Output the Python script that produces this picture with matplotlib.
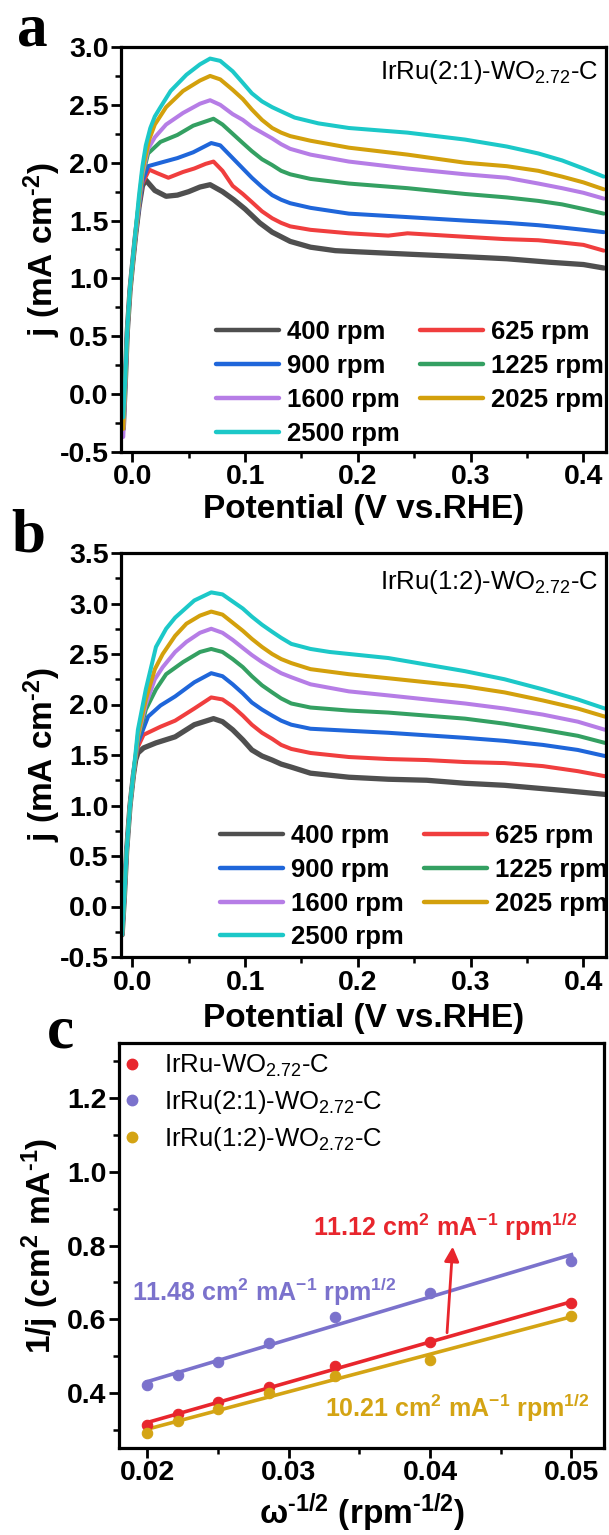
import numpy as np
import matplotlib
matplotlib.use('Agg')
import matplotlib.pyplot as plt
from matplotlib.ticker import MultipleLocator, FormatStrFormatter
from matplotlib.lines import Line2D

plt.rcParams['font.family'] = ['Liberation Sans', 'DejaVu Sans']
plt.rcParams['font.weight'] = 'bold'
plt.rcParams['mathtext.default'] = 'regular'
plt.rcParams['axes.unicode_minus'] = False
plt.rcParams['axes.linewidth'] = 2.2

# ---------------- data ----------------
rpm_labels = ['400 rpm', '625 rpm', '900 rpm', '1225 rpm', '1600 rpm', '2025 rpm', '2500 rpm']
rpm_colors = ['#4f4f4f', '#f03e3e', '#1f66da', '#34a062', '#b67de6', '#d3a00c', '#1cc8c8']

# Panel a : IrRu(2:1)-WO2.72-C
a_400_v = [-0.008, -0.006, -0.0045, -0.002, 0.0, 0.003, 0.006, 0.009, 0.012, 0.02, 0.03, 0.04, 0.05, 0.06, 0.069, 0.08, 0.09, 0.10, 0.113, 0.124, 0.14, 0.158, 0.18, 0.20, 0.244, 0.29, 0.332, 0.37, 0.40, 0.418]
a_400_j = [-0.30, 0.15, 0.53, 0.90, 1.10, 1.38, 1.62, 1.80, 1.85, 1.76, 1.71, 1.72, 1.75, 1.79, 1.81, 1.75, 1.68, 1.60, 1.48, 1.40, 1.32, 1.27, 1.24, 1.23, 1.21, 1.19, 1.17, 1.14, 1.12, 1.09]
a_625_v = [-0.008, -0.006, -0.0045, -0.002, 0.0, 0.003, 0.006, 0.009, 0.015, 0.022, 0.032, 0.045, 0.055, 0.065, 0.072, 0.08, 0.089, 0.098, 0.106, 0.115, 0.124, 0.132, 0.14, 0.158, 0.192, 0.227, 0.244, 0.261, 0.295, 0.33, 0.36, 0.381, 0.40, 0.418]
a_625_j = [-0.30, 0.15, 0.53, 0.90, 1.10, 1.38, 1.62, 1.82, 1.94, 1.91, 1.87, 1.92, 1.95, 1.99, 2.01, 1.93, 1.80, 1.73, 1.66, 1.58, 1.52, 1.48, 1.45, 1.42, 1.39, 1.37, 1.39, 1.38, 1.36, 1.34, 1.33, 1.31, 1.29, 1.24]
a_900_v = [-0.008, -0.006, -0.0045, -0.002, 0.0, 0.003, 0.006, 0.009, 0.014, 0.025, 0.04, 0.054, 0.07, 0.078, 0.089, 0.098, 0.106, 0.115, 0.124, 0.132, 0.14, 0.158, 0.192, 0.244, 0.295, 0.332, 0.36, 0.381, 0.40, 0.418]
a_900_j = [-0.30, 0.15, 0.53, 0.90, 1.10, 1.38, 1.62, 1.84, 1.97, 2.00, 2.04, 2.09, 2.17, 2.15, 2.04, 1.95, 1.87, 1.79, 1.72, 1.68, 1.65, 1.61, 1.56, 1.53, 1.50, 1.48, 1.46, 1.44, 1.42, 1.40]
a_1225_v = [-0.008, -0.006, -0.0045, -0.002, 0.0, 0.003, 0.006, 0.009, 0.014, 0.025, 0.04, 0.054, 0.072, 0.08, 0.089, 0.098, 0.106, 0.115, 0.124, 0.132, 0.14, 0.158, 0.192, 0.244, 0.295, 0.332, 0.36, 0.381, 0.40, 0.418]
a_1225_j = [-0.30, 0.15, 0.53, 0.90, 1.10, 1.38, 1.64, 1.88, 2.08, 2.18, 2.24, 2.32, 2.38, 2.33, 2.25, 2.17, 2.10, 2.03, 1.98, 1.93, 1.90, 1.86, 1.82, 1.78, 1.73, 1.70, 1.67, 1.64, 1.60, 1.56]
a_1600_v = [-0.008, -0.006, -0.0045, -0.002, 0.0, 0.003, 0.006, 0.009, 0.014, 0.02, 0.03, 0.045, 0.06, 0.069, 0.078, 0.089, 0.098, 0.106, 0.115, 0.124, 0.132, 0.14, 0.158, 0.192, 0.244, 0.295, 0.332, 0.36, 0.381, 0.40, 0.418]
a_1600_j = [-0.37, 0.12, 0.53, 0.90, 1.10, 1.38, 1.65, 1.90, 2.12, 2.22, 2.33, 2.43, 2.51, 2.54, 2.50, 2.42, 2.37, 2.31, 2.26, 2.21, 2.16, 2.12, 2.07, 2.01, 1.95, 1.90, 1.87, 1.82, 1.78, 1.74, 1.69]
a_2025_v = [-0.008, -0.006, -0.0045, -0.002, 0.0, 0.003, 0.006, 0.009, 0.015, 0.02, 0.03, 0.045, 0.06, 0.069, 0.078, 0.089, 0.098, 0.106, 0.115, 0.124, 0.132, 0.14, 0.158, 0.192, 0.244, 0.295, 0.332, 0.36, 0.381, 0.40, 0.418]
a_2025_j = [-0.30, 0.15, 0.53, 0.90, 1.10, 1.40, 1.68, 1.93, 2.20, 2.33, 2.48, 2.62, 2.71, 2.75, 2.72, 2.63, 2.55, 2.46, 2.37, 2.30, 2.26, 2.23, 2.19, 2.13, 2.07, 2.00, 1.97, 1.93, 1.88, 1.83, 1.77]
a_2500_v = [-0.008, -0.006, -0.0045, -0.002, 0.0, 0.003, 0.006, 0.009, 0.012, 0.016, 0.02, 0.025, 0.034, 0.048, 0.06, 0.069, 0.078, 0.089, 0.098, 0.106, 0.115, 0.124, 0.135, 0.144, 0.165, 0.192, 0.244, 0.295, 0.332, 0.36, 0.381, 0.40, 0.418]
a_2500_j = [-0.20, 0.18, 0.55, 0.92, 1.12, 1.42, 1.72, 1.97, 2.15, 2.30, 2.40, 2.48, 2.62, 2.76, 2.85, 2.90, 2.88, 2.79, 2.69, 2.60, 2.53, 2.48, 2.43, 2.39, 2.34, 2.30, 2.26, 2.20, 2.14, 2.08, 2.02, 1.95, 1.88]

# Panel b : IrRu(1:2)-WO2.72-C
b_400_v = [-0.009, -0.007, -0.005, -0.002, 0.001, 0.003, 0.005, 0.01, 0.021, 0.038, 0.055, 0.072, 0.08, 0.089, 0.098, 0.106, 0.115, 0.124, 0.132, 0.141, 0.158, 0.192, 0.227, 0.261, 0.295, 0.33, 0.381, 0.419]
b_400_j = [-0.28, 0.10, 0.55, 1.00, 1.30, 1.45, 1.52, 1.57, 1.62, 1.68, 1.80, 1.86, 1.83, 1.75, 1.65, 1.55, 1.49, 1.45, 1.41, 1.38, 1.32, 1.28, 1.26, 1.25, 1.22, 1.20, 1.15, 1.11]
b_625_v = [-0.009, -0.007, -0.005, -0.002, 0.001, 0.003, 0.005, 0.01, 0.025, 0.038, 0.055, 0.07, 0.08, 0.089, 0.098, 0.106, 0.115, 0.124, 0.132, 0.141, 0.158, 0.192, 0.227, 0.261, 0.295, 0.33, 0.364, 0.395, 0.419]
b_625_j = [-0.28, 0.10, 0.55, 1.00, 1.30, 1.47, 1.58, 1.70, 1.78, 1.84, 1.96, 2.07, 2.05, 1.98, 1.89, 1.80, 1.72, 1.66, 1.60, 1.56, 1.52, 1.48, 1.46, 1.45, 1.43, 1.42, 1.39, 1.34, 1.29]
b_900_v = [-0.009, -0.007, -0.005, -0.002, 0.001, 0.003, 0.005, 0.014, 0.025, 0.038, 0.055, 0.07, 0.08, 0.089, 0.098, 0.106, 0.115, 0.124, 0.132, 0.141, 0.158, 0.192, 0.227, 0.295, 0.33, 0.364, 0.395, 0.419]
b_900_j = [-0.28, 0.10, 0.55, 1.00, 1.30, 1.48, 1.62, 1.88, 1.99, 2.08, 2.22, 2.31, 2.28, 2.20, 2.11, 2.02, 1.95, 1.89, 1.84, 1.80, 1.76, 1.74, 1.72, 1.67, 1.64, 1.60, 1.55, 1.49]
b_1225_v = [-0.009, -0.007, -0.005, -0.002, 0.001, 0.003, 0.005, 0.012, 0.021, 0.03, 0.045, 0.06, 0.07, 0.08, 0.089, 0.098, 0.106, 0.115, 0.124, 0.132, 0.141, 0.158, 0.192, 0.227, 0.295, 0.33, 0.364, 0.395, 0.419]
b_1225_j = [-0.28, 0.10, 0.55, 1.00, 1.30, 1.48, 1.65, 1.95, 2.15, 2.30, 2.42, 2.52, 2.55, 2.52, 2.45, 2.37, 2.28, 2.19, 2.12, 2.06, 2.01, 1.97, 1.94, 1.92, 1.86, 1.81, 1.75, 1.69, 1.62]
b_1600_v = [-0.009, -0.007, -0.005, -0.002, 0.001, 0.003, 0.005, 0.012, 0.02, 0.027, 0.038, 0.048, 0.06, 0.07, 0.08, 0.089, 0.098, 0.106, 0.115, 0.124, 0.132, 0.141, 0.158, 0.192, 0.227, 0.295, 0.33, 0.364, 0.395, 0.419]
b_1600_j = [-0.28, 0.10, 0.55, 1.00, 1.30, 1.49, 1.68, 2.00, 2.25, 2.37, 2.52, 2.62, 2.71, 2.75, 2.71, 2.64, 2.56, 2.49, 2.42, 2.36, 2.31, 2.27, 2.20, 2.13, 2.09, 2.01, 1.96, 1.90, 1.83, 1.75]
b_2025_v = [-0.009, -0.007, -0.005, -0.002, 0.001, 0.003, 0.005, 0.012, 0.02, 0.027, 0.038, 0.048, 0.06, 0.07, 0.08, 0.089, 0.098, 0.106, 0.115, 0.124, 0.132, 0.141, 0.158, 0.192, 0.227, 0.295, 0.33, 0.364, 0.395, 0.419]
b_2025_j = [-0.28, 0.10, 0.55, 1.00, 1.30, 1.50, 1.70, 2.05, 2.35, 2.50, 2.68, 2.80, 2.88, 2.92, 2.89, 2.81, 2.73, 2.65, 2.57, 2.50, 2.45, 2.41, 2.35, 2.30, 2.26, 2.18, 2.12, 2.04, 1.96, 1.88]
b_2500_v = [-0.009, -0.007, -0.005, -0.002, 0.001, 0.003, 0.005, 0.012, 0.021, 0.03, 0.038, 0.055, 0.07, 0.08, 0.089, 0.098, 0.106, 0.115, 0.124, 0.132, 0.141, 0.158, 0.175, 0.227, 0.295, 0.33, 0.364, 0.395, 0.419]
b_2500_j = [-0.28, 0.10, 0.55, 1.00, 1.32, 1.53, 1.75, 2.15, 2.57, 2.75, 2.86, 3.03, 3.11, 3.09, 3.02, 2.95, 2.87, 2.79, 2.72, 2.66, 2.60, 2.55, 2.52, 2.46, 2.33, 2.25, 2.15, 2.05, 1.96]

# Panel c : Koutecky-Levich
kl_x = [0.02, 0.0222, 0.025, 0.0286, 0.0333, 0.04, 0.05]
kl_base = [0.313, 0.341, 0.376, 0.416, 0.474, 0.537, 0.643]
kl_21 = [0.420, 0.448, 0.484, 0.535, 0.605, 0.672, 0.757]
kl_12 = [0.292, 0.322, 0.355, 0.400, 0.445, 0.490, 0.609]
kl_labels = ['IrRu-WO$_{2.72}$-C', 'IrRu(2:1)-WO$_{2.72}$-C', 'IrRu(1:2)-WO$_{2.72}$-C']
kl_colors = ['#e8262d', '#7b72cc', '#d4a414']
kl_slopes = ['11.12', '11.48', '10.21']

HY = '\u2010'  # short hyphen used in the reference superscripts

# ---------------- figure ----------------
W, H = 609, 1535
fig = plt.figure(figsize=(W / 100, H / 100), dpi=100)


def px_axes(l, t, r, b):
    return fig.add_axes([l / W, 1 - b / H, (r - l) / W, (b - t) / H])


ax_a = px_axes(121, 47, 606, 452)
ax_b = px_axes(121, 553, 606, 957)
ax_c = px_axes(119, 1043, 604, 1448)

TICK_FS = 20.5
LABEL_FS = 24


def style_axes(ax):
    ax.tick_params(which='major', direction='out', length=7, width=2.0, labelsize=TICK_FS, pad=2,
                   top=False, right=False)
    ax.tick_params(which='minor', direction='out', length=4, width=1.8, top=False, right=False)
    for s in ax.spines.values():
        s.set_linewidth(2.3)


def rde_panel(ax, vs, js, ylim, title, legend_anchor):
    lines = []
    for v, j, c, lab in zip(vs, js, rpm_colors, rpm_labels):
        lw = 3.8 if lab == '400 rpm' else 2.9
        ln, = ax.plot(v, j, color=c, lw=lw, label=lab, solid_capstyle='round',
                      solid_joinstyle='round')
        lines.append(ln)
    ax.set_xlim(-0.01, 0.42)
    ax.set_ylim(*ylim)
    ax.xaxis.set_major_locator(MultipleLocator(0.1))
    ax.xaxis.set_minor_locator(MultipleLocator(0.05))
    ax.yaxis.set_major_locator(MultipleLocator(0.5))
    ax.yaxis.set_minor_locator(MultipleLocator(0.25))
    ax.xaxis.set_major_formatter(FormatStrFormatter('%.1f'))
    ax.yaxis.set_major_formatter(FormatStrFormatter('%.1f'))
    style_axes(ax)
    ax.set_xlabel('Potential (V vs.RHE)', fontsize=LABEL_FS, fontweight='bold')
    ax.set_ylabel('j (mA cm$^{' + HY + '2}$)', fontsize=LABEL_FS, fontweight='bold')
    ax.yaxis.set_label_coords(-0.163, 0.5)
    ax.yaxis.label.set_va('center')
    ax.text(0.983, title[1], title[0], transform=ax.transAxes, ha='right', va='center',
            fontsize=18.5, fontweight='normal')
    order = [0, 2, 4, 6, 1, 3, 5]
    leg = ax.legend(handles=[lines[i] for i in order], ncol=2, loc='upper left',
                    bbox_to_anchor=legend_anchor, frameon=False, handlelength=2.45,
                    handletextpad=0.3, columnspacing=0.8, labelspacing=0.38, borderpad=0,
                    borderaxespad=0, prop={'size': 18.5, 'weight': 'bold'})
    for lh in leg.get_lines():
        lh.set_linewidth(3.2)
    return lines


rde_panel(ax_a,
          [a_400_v, a_625_v, a_900_v, a_1225_v, a_1600_v, a_2025_v, a_2500_v],
          [a_400_j, a_625_j, a_900_j, a_1225_j, a_1600_j, a_2025_j, a_2500_j],
          (-0.5, 3.0), ('IrRu(2:1)-WO$_{2.72}$-C', 0.938), (0.196, 0.325))
ax_a.xaxis.set_label_coords(0.5, -0.143)
ax_a.xaxis.label.set_va('center')

rde_panel(ax_b,
          [b_400_v, b_625_v, b_900_v, b_1225_v, b_1600_v, b_2025_v, b_2500_v],
          [b_400_j, b_625_j, b_900_j, b_1225_j, b_1600_j, b_2025_j, b_2500_j],
          (-0.5, 3.5), ('IrRu(1:2)-WO$_{2.72}$-C', 0.928), (0.204, 0.329))
ax_b.xaxis.set_label_coords(0.5, -0.151)
ax_b.xaxis.label.set_va('center')

# Panel c
kl_x_arr = np.array(kl_x)
handles = []
for yv, c, lab in zip([kl_base, kl_21, kl_12], kl_colors, kl_labels):
    coef = np.polyfit(kl_x_arr, np.array(yv), 1)
    xf = np.array([kl_x_arr.min(), kl_x_arr.max()])
    ax_c.plot(xf, np.polyval(coef, xf), color=c, lw=2.6, zorder=2)
    ax_c.plot(kl_x, yv, 'o', color=c, ms=7.5, mec=c, mew=0.8, zorder=3)
    handles.append(Line2D([], [], marker='o', ls='none', color=c, ms=7.5, label=lab))

ax_c.set_xlim(0.018, 0.0523)
ax_c.set_ylim(0.25, 1.35)
ax_c.xaxis.set_major_locator(MultipleLocator(0.01))
ax_c.xaxis.set_minor_locator(MultipleLocator(0.005))
ax_c.yaxis.set_major_locator(MultipleLocator(0.2))
ax_c.yaxis.set_minor_locator(MultipleLocator(0.1))
ax_c.xaxis.set_major_formatter(FormatStrFormatter('%.2f'))
ax_c.yaxis.set_major_formatter(FormatStrFormatter('%.1f'))
style_axes(ax_c)
ax_c.set_xlabel('ω$^{' + HY + '1/2}$ (rpm$^{' + HY + '1/2}$)', fontsize=LABEL_FS, fontweight='bold')
ax_c.set_ylabel('1/j (cm$^{2}$ mA$^{' + HY + '1}$)', fontsize=LABEL_FS, fontweight='bold')
ax_c.yaxis.set_label_coords(-0.163, 0.5)
ax_c.yaxis.label.set_va('center')
ax_c.xaxis.set_label_coords(0.5, -0.16)
ax_c.xaxis.label.set_va('center')

ax_c.legend(handles=handles, loc='upper left', bbox_to_anchor=(0.0, 0.976), frameon=False,
            handlelength=1.0, handletextpad=0.75, labelspacing=0.36, borderpad=0, borderaxespad=0,
            prop={'size': 18.5, 'weight': 'normal'})

slope_unit = ' cm$^{2}$ mA$^{-1}$ rpm$^{1/2}$'
ax_c.text(0.0504, 0.85, kl_slopes[0] + slope_unit, color=kl_colors[0], ha='right', va='center',
          fontsize=18, fontweight='bold')
ax_c.text(0.0189, 0.674, kl_slopes[1] + slope_unit, color=kl_colors[1], ha='left', va='center',
          fontsize=18, fontweight='bold')
ax_c.text(0.0513, 0.36, kl_slopes[2] + slope_unit, color=kl_colors[2], ha='right', va='center',
          fontsize=18, fontweight='bold')
ax_c.annotate('', xy=(0.0416, 0.797), xytext=(0.0412, 0.563),
              arrowprops=dict(arrowstyle='-|>', color=kl_colors[0], lw=2.0, mutation_scale=22,
                              shrinkA=0, shrinkB=0))

# panel letters
for letter, x, y in [('a', 32, 46), ('b', 28, 552), ('c', 60, 1047)]:
    fig.text(x / W, 1 - y / H, letter, ha='center', va='baseline', fontsize=44,
             fontweight='bold', family='Liberation Serif')

fig.savefig('out.png', dpi=100)
